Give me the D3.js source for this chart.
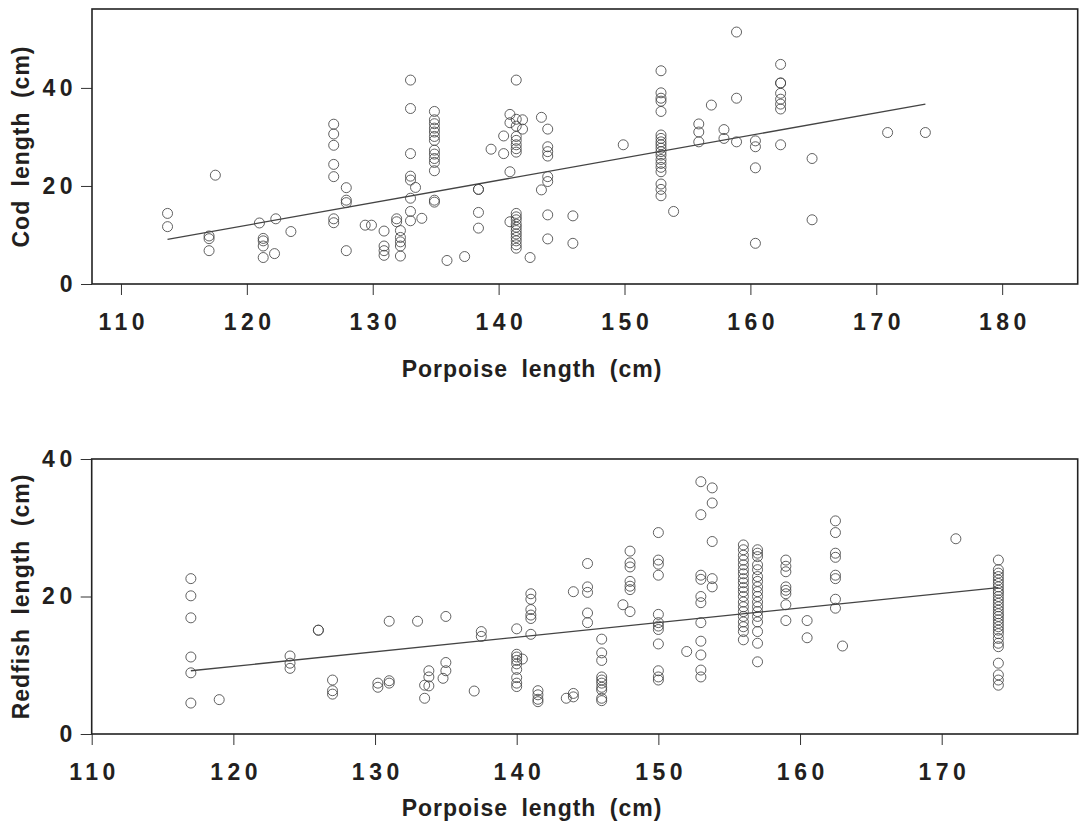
<!DOCTYPE html>
<html>
<head>
<meta charset="utf-8">
<script src="https://cdn.jsdelivr.net/npm/d3@7"></script>
<style>
  body { margin: 0; background: #fff; }
  text { font-family: "Liberation Sans", Arial, sans-serif; font-weight: bold; fill: #231f20; }
</style>
</head>
<body>
<script>
// porpoise length -> cod lengths found in its stomach (grouped by porpoise)
const codColumns = [
  [113.7, [14.4, 11.7]],
  [117.5, [22.2]],
  [117.0, [9.8, 9.25, 6.8]],
  [121.0, [12.45]],
  [121.3, [9.3, 8.8, 7.75, 5.4]],
  [122.3, [13.3]],
  [122.2, [6.2]],
  [123.5, [10.7]],
  [126.9, [32.6, 30.6, 28.3, 24.4, 21.9, 13.3, 12.5]],
  [127.9, [19.65, 17.1, 16.6, 6.8]],
  [129.4, [12.0]],
  [129.9, [12.0]],
  [130.9, [10.8, 7.75, 6.8, 5.85]],
  [131.9, [13.3, 12.7]],
  [132.2, [10.9, 9.5, 8.6, 7.75, 5.7]],
  [133.0, [41.6, 35.8, 26.6, 22.0, 21.2, 17.5, 14.8, 12.9]],
  [133.4, [19.7]],
  [133.9, [13.4]],
  [134.9, [35.2, 33.5, 32.7, 31.8, 31.0, 30.1, 29.3, 27.3, 26.5, 25.6, 24.8, 23.1, 17.1, 16.7]],
  [135.9, [4.8]],
  [137.3, [5.6]],
  [138.4, [19.3, 19.3, 14.6, 11.4]],
  [139.4, [27.5]],
  [140.4, [30.2, 26.6]],
  [140.9, [34.6, 32.9, 22.9, 12.7]],
  [141.4, [41.6, 33.6, 32.2, 30.1, 29.3, 28.4, 27.6, 26.9, 14.4, 13.7, 13.1, 12.2, 11.6, 10.9, 10.2, 9.5, 8.8, 8.0, 7.3]],
  [141.9, [33.5, 31.6]],
  [142.5, [5.4]],
  [143.4, [34.0, 19.2]],
  [143.9, [31.6, 28.0, 27.0, 26.1, 21.9, 20.9, 14.1, 9.2]],
  [145.9, [13.9, 8.3]],
  [149.9, [28.4]],
  [152.9, [43.5, 39.0, 37.9, 37.3, 35.2, 30.4, 29.7, 29.0, 28.4, 27.7, 27.0, 26.3, 25.4, 24.6, 23.8, 22.9, 20.4, 19.3, 18.0]],
  [153.9, [14.8]],
  [155.9, [32.65, 31.0, 29.0]],
  [156.9, [36.5]],
  [157.9, [31.5, 29.7]],
  [158.9, [51.4, 37.9, 29.0]],
  [160.4, [29.2, 28.0, 23.7, 8.3]],
  [162.4, [44.8, 41.0, 41.0, 38.9, 37.7, 36.7, 35.7, 28.4]],
  [164.9, [25.6, 13.1]],
  [170.9, [30.9]],
  [173.9, [30.9]]
];

// porpoise length -> redfish lengths
const redfishColumns = [
  [117.0, [22.6, 20.1, 16.9, 11.2, 8.9, 4.5]],
  [119.0, [5.0]],
  [124.0, [11.35, 10.3, 9.55]],
  [126.0, [15.1, 15.1]],
  [127.0, [7.85, 6.3, 5.8]],
  [130.2, [7.4, 6.8]],
  [131.0, [7.75, 7.4, 16.4]],
  [133.0, [16.4]],
  [133.5, [7.1, 5.2]],
  [133.8, [9.2, 8.3, 7.0]],
  [134.8, [8.1]],
  [135.0, [10.4, 9.2, 17.1]],
  [137.0, [6.25]],
  [137.5, [14.9, 14.2]],
  [140.0, [15.3, 11.6, 11.2, 10.7, 10.2, 9.4, 8.2, 7.4, 6.9]],
  [140.4, [10.9]],
  [141.0, [20.4, 19.6, 18.1, 17.3, 16.8, 14.5]],
  [141.5, [6.3, 5.7, 5.05, 4.7]],
  [143.5, [5.2]],
  [144.0, [5.9, 5.4, 20.7]],
  [145.0, [24.8, 21.4, 20.6, 17.6, 16.2]],
  [146.0, [13.8, 11.8, 10.7, 8.3, 7.85, 7.4, 6.8, 6.4, 5.2, 4.85]],
  [147.5, [18.8]],
  [148.0, [26.6, 24.9, 24.3, 22.2, 21.5, 21.0, 17.8]],
  [150.0, [29.3, 25.3, 24.7, 23.1, 17.4, 16.2, 15.7, 15.2, 13.1, 9.2, 8.3, 7.85]],
  [152.0, [12.0]],
  [153.0, [36.7, 31.9, 23.1, 22.5, 20.0, 19.1, 16.2, 13.5, 11.5, 9.3, 8.3]],
  [153.8, [35.8, 33.6, 28.0, 22.6, 21.4]],
  [156.0, [27.5, 26.8, 26.0, 25.3, 24.6, 23.9, 23.3, 22.6, 22.0, 21.3, 20.7, 20.0, 19.2, 18.5, 17.8, 17.1, 16.3, 15.6, 14.9, 13.7]],
  [157.0, [26.8, 26.3, 25.8, 24.6, 23.9, 22.9, 22.2, 21.4, 20.7, 20.0, 19.2, 18.5, 17.8, 17.1, 16.3, 14.9, 13.2, 10.5]],
  [159.0, [25.3, 24.4, 23.6, 21.4, 20.9, 20.4, 18.8, 16.5]],
  [160.5, [16.5, 14.0]],
  [162.5, [31.0, 29.3, 26.3, 25.7, 23.1, 22.6, 19.6, 18.3]],
  [163.0, [12.8]],
  [171.0, [28.4]],
  [174.0, [25.3, 23.9, 23.4, 22.9, 22.4, 21.9, 21.4, 20.9, 20.5, 20.0, 19.5, 19.0, 18.5, 18.0, 17.5, 17.1,
           16.6, 16.1, 15.6, 15.1, 14.6, 13.9, 13.2, 12.7, 10.3, 8.6, 7.85, 7.1]]
];

// fitted lines, end points
const codFit = [[113.7, 9.1], [173.9, 36.7]];
const redfishFit = [[117.0, 9.2], [174.0, 21.3]];

const codXTicks = [110, 120, 130, 140, 150, 160, 170, 180];
const codYTicks = [0, 20, 40];
const redfishXTicks = [110, 120, 130, 140, 150, 160, 170];
const redfishYTicks = [0, 20, 40];

const flatten = cols => cols.flatMap(([x, ys]) => ys.map(y => ({x, y})));

const svg = d3.select("body").append("svg")
  .attr("width", 1079)
  .attr("height", 823);

function drawPanel(p) {
  const x = d3.scaleLinear().domain(p.xDomain).range([p.left, p.right]);
  const y = d3.scaleLinear().domain(p.yDomain).range([p.bottom, p.top]);
  const g = svg.append("g");

  // axes (ticks outside the frame)
  const xa = g.append("g")
    .attr("transform", `translate(0,${p.bottom})`)
    .call(d3.axisBottom(x).tickValues(p.xTicks).tickSize(11).tickSizeOuter(0).tickPadding(p.xPad));
  const ya = g.append("g")
    .attr("transform", `translate(${p.left},0)`)
    .call(d3.axisLeft(y).tickValues(p.yTicks).tickSize(11).tickSizeOuter(0).tickPadding(4));
  [xa, ya].forEach(a => {
    a.select(".domain").remove();
    a.selectAll("line").attr("stroke", "#333").attr("stroke-width", 1);
    a.selectAll("text")
      .attr("font-family", null)
      .style("font-size", "23px")
      .style("letter-spacing", "4.5px")
      .attr("fill", "#231f20");
  });
  xa.selectAll("text").attr("dx", "2.25px");

  // frame
  g.append("rect")
    .attr("x", p.left).attr("y", p.top)
    .attr("width", p.right - p.left).attr("height", p.bottom - p.top)
    .attr("fill", "none").attr("stroke", "#222").attr("stroke-width", 1.6);

  // points
  g.append("g").selectAll("circle")
    .data(flatten(p.columns))
    .join("circle")
    .attr("cx", d => x(d.x))
    .attr("cy", d => y(d.y))
    .attr("r", 5)
    .attr("fill", "none")
    .attr("stroke", "#444")
    .attr("stroke-width", 0.85);

  // fitted line
  g.append("path")
    .datum(p.fit)
    .attr("d", d3.line().x(d => x(d[0])).y(d => y(d[1])))
    .attr("fill", "none")
    .attr("stroke", "#444")
    .attr("stroke-width", 1.3);

  // axis titles
  g.append("text")
    .attr("x", 532)
    .attr("y", p.xTitleY)
    .attr("text-anchor", "middle")
    .style("font-size", "23px")
    .style("letter-spacing", "1px")
    .style("word-spacing", "6px")
    .text("Porpoise length (cm)");

  g.append("text")
    .attr("transform", `translate(29,${(p.top + p.bottom) / 2}) rotate(-90)`)
    .attr("text-anchor", "middle")
    .style("font-size", "23px")
    .style("letter-spacing", "1px")
    .style("word-spacing", "6px")
    .text(p.yTitle);
}

drawPanel({
  columns: codColumns, fit: codFit,
  xDomain: [107.7, 186.0], yDomain: [0, 56.1],
  xTicks: codXTicks, yTicks: codYTicks,
  left: 92, right: 1077.7, top: 9, bottom: 284,
  xPad: 19, xTitleY: 377, yTitle: "Cod length (cm)"
});

drawPanel({
  columns: redfishColumns, fit: redfishFit,
  xDomain: [110, 179.6], yDomain: [0, 40],
  xTicks: redfishXTicks, yTicks: redfishYTicks,
  left: 91.7, right: 1077.7, top: 459, bottom: 734,
  xPad: 19, xTitleY: 816, yTitle: "Redfish length (cm)"
});
</script>
</body>
</html>
